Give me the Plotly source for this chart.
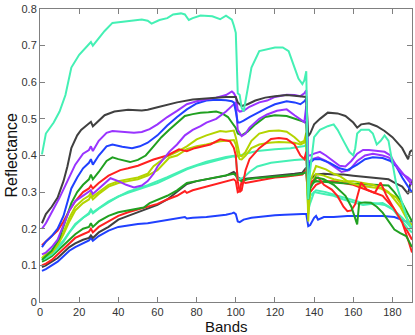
import plotly.graph_objects as go

# band positions / reflectance, one pair of lists per class curve
a1_bands = [1, 3, 7, 10, 13, 16, 20, 25, 26, 27, 30, 33, 37, 44, 52, 55, 57, 61, 65, 68, 72, 74, 76, 78, 82, 88, 92, 95, 98, 99, 100,
            101, 102, 103, 104, 106, 108, 112, 116, 120, 124, 127, 130, 132, 134, 135, 136,
            137, 138, 140, 143, 147, 150, 152, 155, 158, 160, 161, 162, 164, 168, 170, 172, 174, 176, 178, 180, 182, 185, 188, 190]
a1_refl = [0.403, 0.46, 0.49, 0.52, 0.565, 0.64, 0.675, 0.705, 0.71, 0.70, 0.72, 0.74, 0.762, 0.767, 0.771, 0.768, 0.76, 0.77, 0.775, 0.785, 0.788, 0.785, 0.77, 0.775, 0.782, 0.78, 0.772, 0.782, 0.771, 0.755, 0.735,
           0.57, 0.565, 0.53, 0.52, 0.58, 0.64, 0.685, 0.69, 0.695, 0.695, 0.685, 0.64, 0.61, 0.595, 0.605, 0.63,
           0.28, 0.36, 0.45, 0.47, 0.48, 0.485, 0.47, 0.44, 0.41, 0.40, 0.42, 0.46, 0.47, 0.47, 0.46, 0.43, 0.44, 0.455, 0.44, 0.38, 0.32, 0.27, 0.22, 0.20]

g1_bands = [1, 3, 6, 9, 12, 14, 16, 19, 21, 25, 26, 27, 30, 33, 38, 45, 52, 55, 60, 70, 78, 85, 90, 95, 100,
            101, 103, 106, 110, 115, 120, 126, 130, 134, 136,
            137, 138, 140, 143, 147, 152, 156, 160, 162, 164, 168, 172, 176, 180, 185, 188, 189, 190]
g1_refl = [0.215, 0.24, 0.26, 0.285, 0.33, 0.37, 0.42, 0.455, 0.47, 0.487, 0.492, 0.48, 0.495, 0.51, 0.52, 0.525, 0.523, 0.525, 0.532, 0.545, 0.553, 0.556, 0.558, 0.56, 0.56,
           0.545, 0.535, 0.54, 0.55, 0.558, 0.562, 0.565, 0.563, 0.562, 0.56,
           0.453, 0.46, 0.485, 0.50, 0.517, 0.515, 0.508, 0.49, 0.476, 0.485, 0.488, 0.48, 0.467, 0.45, 0.42, 0.39, 0.41, 0.415]

p1_bands = [1, 3, 6, 10, 14, 18, 22, 25, 26, 27, 30, 34, 37, 42, 48, 52, 56, 60, 65, 70, 75, 80, 85, 90, 95, 98, 99, 100,
            101, 102, 104, 107, 112, 116, 120, 126, 130, 133, 135, 136,
            137, 138, 140, 143, 146, 150, 153, 156, 159, 162, 165, 168, 172, 176, 179, 182, 185, 188, 190]
p1_refl = [0.20, 0.215, 0.245, 0.285, 0.33, 0.375, 0.405, 0.415, 0.425, 0.412, 0.44, 0.462, 0.467, 0.464, 0.462, 0.464, 0.472, 0.485, 0.505, 0.522, 0.54, 0.548, 0.552, 0.558, 0.565, 0.575, 0.57, 0.56,
           0.525, 0.52, 0.522, 0.533, 0.545, 0.55, 0.56, 0.566, 0.565, 0.562, 0.57, 0.578,
           0.40, 0.40, 0.405, 0.41, 0.40, 0.385, 0.372, 0.37, 0.385, 0.405, 0.415, 0.415, 0.412, 0.41, 0.40, 0.37, 0.35, 0.34, 0.33]

b1_bands = [1, 3, 6, 9, 12, 14, 16, 19, 22, 25, 26, 27, 30, 34, 37, 42, 47, 51, 55, 60, 65, 70, 75, 80, 85, 90, 95, 98, 99, 100,
            101, 102, 104, 107, 112, 116, 120, 126, 130, 133, 135, 136,
            137, 138, 140, 143, 148, 153, 157, 162, 166, 170, 175, 179, 182, 185, 188, 190]
b1_refl = [0.15, 0.165, 0.18, 0.20, 0.235, 0.275, 0.31, 0.34, 0.365, 0.38, 0.39, 0.375, 0.40, 0.425, 0.43, 0.424, 0.42, 0.425, 0.435, 0.455, 0.482, 0.505, 0.526, 0.542, 0.55, 0.552, 0.551, 0.548, 0.545, 0.52,
           0.49, 0.49, 0.495, 0.505, 0.52, 0.53, 0.54, 0.548, 0.545, 0.54, 0.548, 0.555,
           0.33, 0.38, 0.39, 0.39, 0.38, 0.365, 0.36, 0.375, 0.39, 0.395, 0.393, 0.385, 0.37, 0.34, 0.315, 0.30]

p2_bands = [1, 3, 6, 9, 12, 15, 18, 22, 25, 26, 27, 30, 33, 36, 40, 44, 48, 52, 55, 58, 60, 63, 66, 70, 74, 78, 82, 85, 90, 95, 98, 100,
            101, 103, 105, 107, 112, 116, 121, 126, 130, 133, 135, 136,
            137, 139, 142, 146, 150, 154, 158, 162, 166, 170, 175, 178, 181, 184, 187, 190]
p2_refl = [0.13, 0.135, 0.15, 0.17, 0.21, 0.25, 0.275, 0.29, 0.30, 0.305, 0.295, 0.31, 0.325, 0.338, 0.33, 0.32, 0.313, 0.318, 0.33, 0.35, 0.37, 0.39, 0.41, 0.43, 0.455, 0.47, 0.48, 0.49, 0.50, 0.52, 0.535, 0.545,
           0.47, 0.453, 0.46, 0.476, 0.50, 0.512, 0.522, 0.526, 0.51, 0.498, 0.491, 0.535,
           0.38, 0.39, 0.395, 0.385, 0.37, 0.355, 0.36, 0.385, 0.40, 0.405, 0.40, 0.395, 0.38, 0.36, 0.34, 0.32]

gr1_bands = [1, 3, 6, 10, 13, 16, 19, 22, 25, 26, 27, 30, 34, 37, 40, 43, 46, 50, 54, 58, 62, 66, 70, 74, 78, 82, 86, 90, 93, 96, 98, 100,
             101, 103, 106, 110, 115, 120, 126, 130, 133, 136,
             137, 138, 141, 145, 150, 153, 156, 159, 161, 162, 163, 166, 169, 172, 175, 178, 181, 184, 187, 190]
gr1_refl = [0.115, 0.125, 0.14, 0.175, 0.22, 0.27, 0.30, 0.32, 0.335, 0.348, 0.335, 0.355, 0.385, 0.395, 0.39, 0.385, 0.382, 0.388, 0.40, 0.425, 0.45, 0.47, 0.49, 0.508, 0.513, 0.517, 0.518, 0.52, 0.515, 0.505, 0.49, 0.475,
            0.46, 0.455, 0.465, 0.485, 0.505, 0.51, 0.508, 0.50, 0.494, 0.49,
            0.28, 0.31, 0.34, 0.335, 0.32, 0.305, 0.29, 0.26, 0.23, 0.212, 0.27, 0.272, 0.271, 0.26, 0.244, 0.22, 0.198, 0.188, 0.18, 0.15]

r1_bands = [1, 3, 6, 9, 12, 15, 18, 22, 25, 26, 27, 30, 35, 41, 45, 50, 58, 65, 71, 75, 79, 87, 92, 97, 99, 100,
            101, 102, 103, 104, 105, 107, 112, 118, 122, 126, 130, 133, 135, 136,
            137, 139, 142, 145, 149, 152, 155, 157, 159, 161, 164, 167, 171, 174, 177, 180, 185, 188, 190]
r1_refl = [0.155, 0.165, 0.18, 0.195, 0.22, 0.25, 0.275, 0.30, 0.31, 0.318, 0.31, 0.325, 0.345, 0.36, 0.365, 0.372, 0.389, 0.40, 0.417, 0.412, 0.42, 0.43, 0.444, 0.439, 0.421, 0.40,
           0.33, 0.30, 0.305, 0.33, 0.36, 0.39, 0.42, 0.445, 0.448, 0.445, 0.43, 0.40, 0.39, 0.41,
           0.30, 0.33, 0.34, 0.32, 0.307, 0.289, 0.26, 0.248, 0.25, 0.267, 0.326, 0.307, 0.298, 0.326, 0.29, 0.262, 0.217, 0.17, 0.135]

y1_bands = [1, 3, 6, 9, 12, 15, 18, 22, 25, 26, 27, 30, 35, 40, 45, 50, 55, 58, 65, 70, 75, 80, 85, 92, 95, 99, 100,
            101, 102, 103, 105, 108, 112, 117, 122, 126, 130, 133, 135, 136,
            137, 138, 141, 146, 150, 153, 158, 163, 170, 174, 178, 182, 184, 186, 188, 190]
y1_refl = [0.12, 0.13, 0.14, 0.16, 0.19, 0.23, 0.26, 0.28, 0.29, 0.298, 0.288, 0.30, 0.32, 0.33, 0.335, 0.34, 0.35, 0.371, 0.398, 0.41, 0.425, 0.444, 0.455, 0.467, 0.465, 0.468, 0.45,
           0.42, 0.40, 0.398, 0.41, 0.44, 0.46, 0.467, 0.468, 0.465, 0.45, 0.435, 0.44, 0.462,
           0.22, 0.33, 0.371, 0.362, 0.35, 0.344, 0.326, 0.318, 0.312, 0.31, 0.298, 0.285, 0.27, 0.25, 0.221, 0.20]

y2_bands = [1, 3, 6, 9, 12, 15, 18, 22, 25, 26, 27, 30, 35, 40, 45, 50, 55, 60, 66, 70, 75, 80, 85, 92, 95, 99, 100,
            101, 102, 103, 105, 108, 112, 117, 122, 126, 130, 133, 135, 136,
            137, 138, 141, 145, 150, 155, 160, 165, 170, 175, 178, 181, 184, 187, 190]
y2_refl = [0.12, 0.125, 0.135, 0.155, 0.185, 0.22, 0.25, 0.27, 0.28, 0.29, 0.28, 0.295, 0.315, 0.325, 0.33, 0.335, 0.345, 0.36, 0.394, 0.40, 0.417, 0.425, 0.43, 0.439, 0.44, 0.442, 0.43,
           0.40, 0.39, 0.389, 0.40, 0.42, 0.43, 0.435, 0.437, 0.435, 0.435, 0.43, 0.435, 0.45,
           0.24, 0.31, 0.35, 0.345, 0.335, 0.33, 0.33, 0.325, 0.32, 0.31, 0.30, 0.28, 0.26, 0.23, 0.21]

a2_bands = [1, 3, 6, 9, 12, 15, 18, 22, 25, 26, 27, 30, 35, 40, 45, 50, 55, 60, 65, 70, 75, 80, 85, 90, 95, 99, 100,
            101, 102, 104, 107, 111, 118, 125, 130, 136,
            137, 138, 140, 145, 150, 155, 160, 165, 170, 175, 180, 185, 188, 190]
a2_refl = [0.115, 0.12, 0.13, 0.145, 0.165, 0.19, 0.21, 0.23, 0.24, 0.25, 0.242, 0.255, 0.272, 0.288, 0.298, 0.308, 0.316, 0.325, 0.338, 0.35, 0.362, 0.372, 0.38, 0.386, 0.393, 0.398, 0.395,
           0.34, 0.335, 0.34, 0.355, 0.37, 0.38, 0.385, 0.388, 0.39,
           0.25, 0.27, 0.30, 0.295, 0.29, 0.28, 0.272, 0.265, 0.268, 0.27, 0.255, 0.22, 0.20, 0.19]

a3_bands = [1, 6, 12, 18, 25, 26, 27, 35, 45, 55, 65, 75, 85, 95, 100,
            101, 105, 111, 120, 128, 135, 136,
            137, 138, 141, 146, 152, 158, 164, 170, 176, 181, 185, 190]
a3_refl = [0.118, 0.133, 0.168, 0.213, 0.243, 0.253, 0.245, 0.275, 0.301, 0.319, 0.341, 0.365, 0.383, 0.396, 0.40,
           0.398, 0.405, 0.412, 0.417, 0.42, 0.426, 0.43,
           0.26, 0.29, 0.305, 0.30, 0.29, 0.28, 0.272, 0.27, 0.265, 0.25, 0.23, 0.20]

g2_bands = [1, 3, 6, 9, 12, 15, 18, 22, 25, 26, 27, 30, 35, 40, 45, 50, 55, 60, 65, 70, 75, 80, 85, 90, 95, 99, 100,
            101, 103, 106, 110, 115, 120, 125, 130, 134, 136,
            137, 138, 141, 145, 150, 155, 160, 165, 170, 175, 178, 181, 185, 188, 189, 190]
g2_refl = [0.095, 0.10, 0.11, 0.12, 0.135, 0.15, 0.16, 0.17, 0.175, 0.182, 0.175, 0.19, 0.205, 0.225, 0.235, 0.245, 0.255, 0.265, 0.28, 0.30, 0.322, 0.33, 0.335, 0.34, 0.345, 0.355, 0.35,
           0.34, 0.335, 0.337, 0.34, 0.342, 0.345, 0.347, 0.35, 0.353, 0.367,
           0.30, 0.335, 0.348, 0.35, 0.348, 0.348, 0.345, 0.342, 0.34, 0.338, 0.335, 0.326, 0.315, 0.295, 0.32, 0.33]

gr2_bands = [1, 3, 6, 9, 12, 15, 18, 22, 25, 26, 27, 30, 35, 40, 45, 50, 53, 56, 60, 65, 70, 75, 80, 85, 90, 95, 99, 100,
             101, 103, 106, 110, 115, 120, 125, 130, 134, 136,
             137, 138, 141, 145, 150, 155, 160, 165, 170, 175, 178, 181, 185, 188, 190]
gr2_refl = [0.11, 0.115, 0.125, 0.14, 0.155, 0.17, 0.185, 0.20, 0.205, 0.215, 0.205, 0.22, 0.235, 0.245, 0.25, 0.255, 0.258, 0.27, 0.278, 0.29, 0.305, 0.325, 0.33, 0.335, 0.34, 0.345, 0.35, 0.345,
            0.335, 0.33, 0.335, 0.338, 0.34, 0.342, 0.345, 0.347, 0.35, 0.355,
            0.28, 0.32, 0.33, 0.328, 0.326, 0.324, 0.323, 0.322, 0.32, 0.32, 0.318, 0.30, 0.27, 0.24, 0.22]

r2_bands = [1, 3, 6, 9, 12, 15, 18, 22, 25, 26, 27, 30, 35, 40, 45, 50, 55, 60, 65, 70, 74, 75, 78, 85, 90, 95, 99, 100,
            101, 102, 103, 105, 110, 115, 120, 125, 130, 134, 136,
            137, 138, 141, 145, 150, 155, 160, 165, 170, 175, 180, 185, 188, 190]
r2_refl = [0.10, 0.105, 0.115, 0.13, 0.145, 0.16, 0.175, 0.185, 0.192, 0.20, 0.19, 0.205, 0.22, 0.235, 0.245, 0.252, 0.26, 0.268, 0.28, 0.29, 0.303, 0.298, 0.305, 0.315, 0.322, 0.328, 0.335, 0.33,
           0.30, 0.303, 0.33, 0.325, 0.33, 0.335, 0.34, 0.342, 0.345, 0.348, 0.36,
           0.27, 0.30, 0.32, 0.33, 0.33, 0.325, 0.32, 0.31, 0.30, 0.29, 0.26, 0.22, 0.19, 0.17]

b2_bands = [1, 3, 6, 9, 12, 15, 18, 22, 25, 26, 27, 30, 35, 40, 45, 50, 55, 60, 65, 70, 74, 75, 78, 85, 90, 95, 98, 99, 100,
            101, 102, 104, 108, 115, 120, 125, 130, 134, 136,
            137, 138, 140, 141, 142, 145, 150, 157, 165, 175, 181, 185, 188, 190]
b2_refl = [0.085, 0.09, 0.10, 0.11, 0.125, 0.14, 0.15, 0.16, 0.168, 0.175, 0.167, 0.18, 0.195, 0.205, 0.21, 0.213, 0.215, 0.22, 0.225, 0.228, 0.232, 0.228, 0.23, 0.232, 0.235, 0.238, 0.242, 0.244, 0.24,
           0.22, 0.218, 0.225, 0.23, 0.235, 0.237, 0.238, 0.24, 0.24, 0.24,
           0.207, 0.21, 0.23, 0.235, 0.225, 0.232, 0.232, 0.235, 0.235, 0.235, 0.232, 0.225, 0.218, 0.22]

x_ticks = [0, 20, 40, 60, 80, 100, 120, 140, 160, 180]
y_ticks = [0, 0.1, 0.2, 0.3, 0.4, 0.5, 0.6, 0.7, 0.8]
y_tick_text = ["0", "0.1", "0.2", "0.3", "0.4", "0.5", "0.6", "0.7", "0.8"]

AQUA = "#44F0B4"
GRAY = "#404040"
PURPLE = "#9933FF"
BLUE = "#2040FF"
GREEN = "#20A020"
RED = "#FF2020"
YGREEN = "#B4D400"

curves = [
    (b2_bands, b2_refl, BLUE),
    (g2_bands, g2_refl, GRAY),
    (r2_bands, r2_refl, RED),
    (gr2_bands, gr2_refl, GREEN),
    (a2_bands, a2_refl, AQUA),
    (a3_bands, a3_refl, AQUA),
    (y2_bands, y2_refl, YGREEN),
    (y1_bands, y1_refl, YGREEN),
    (r1_bands, r1_refl, RED),
    (gr1_bands, gr1_refl, GREEN),
    (p2_bands, p2_refl, PURPLE),
    (b1_bands, b1_refl, BLUE),
    (p1_bands, p1_refl, PURPLE),
    (g1_bands, g1_refl, GRAY),
    (a1_bands, a1_refl, AQUA),
]

fig = go.Figure()
for bands, refl, color in curves:
    fig.add_trace(go.Scatter(x=bands, y=refl, mode="lines",
                             line=dict(color=color, width=2), showlegend=False))

axis_style = dict(showline=True, linecolor="#808080", linewidth=1, mirror="ticks",
                  ticks="inside", ticklen=5, tickcolor="#808080", showgrid=False,
                  zeroline=False, automargin=False,
                  tickfont=dict(family="Liberation Sans", size=11, color="#333"))

fig.update_layout(
    width=415, height=335,
    margin=dict(l=40, r=3, t=9, b=33),
    plot_bgcolor="white", paper_bgcolor="white",
    xaxis=dict(range=[0, 190], tickvals=x_ticks, **axis_style),
    yaxis=dict(range=[0, 0.8], tickvals=y_ticks, ticktext=y_tick_text, **axis_style),
    annotations=[
        dict(text="Bands", xref="paper", yref="paper", x=0.5, y=0, yshift=-24.5,
             xanchor="center", yanchor="middle", showarrow=False, borderpad=0,
             font=dict(family="Liberation Sans", size=15, color="#111")),
        dict(text="Reflectance", xref="paper", yref="paper", x=0, y=0.5, xshift=-29,
             xanchor="center", yanchor="middle", textangle=-90, showarrow=False,
             font=dict(family="Liberation Sans", size=16, color="#111")),
    ],
)

# drop the default page margin so the figure sits at the window's top-left corner
fig.write_html("out.html", config={"displayModeBar": False},
               post_script="document.body.style.margin='0';")
